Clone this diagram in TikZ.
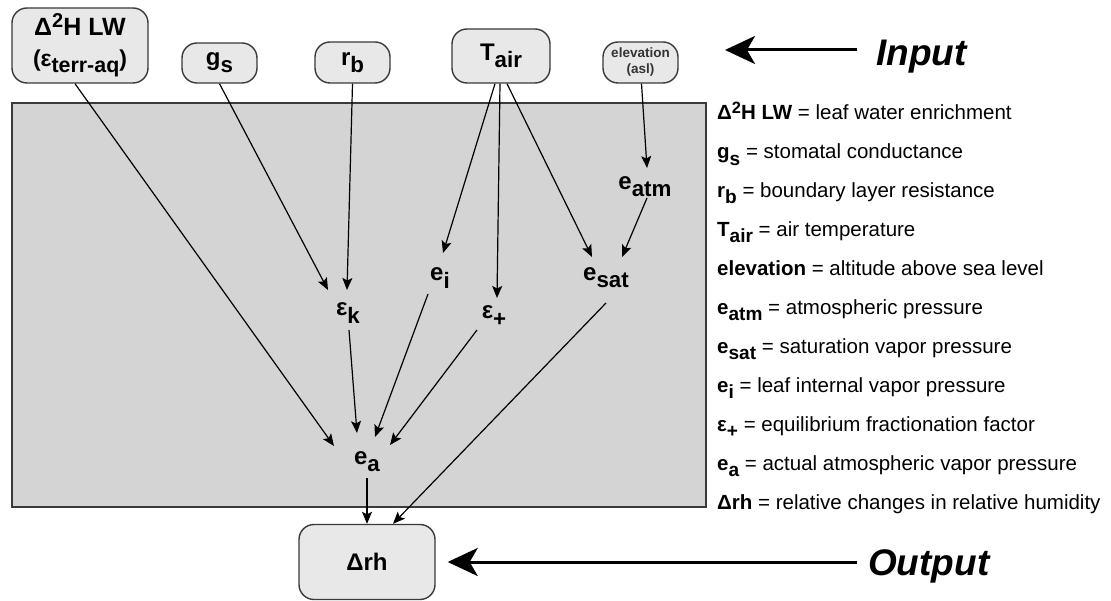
\documentclass[tikz,border=0pt]{standalone}
\usepackage{fontspec}
\setmainfont{Liberation Sans}
\usetikzlibrary{arrows.meta}
\definecolor{boxfill}{HTML}{E8E8E8}
\definecolor{panelgray}{HTML}{D4D4D4}
\definecolor{edgegray}{HTML}{3A3A3A}
\definecolor{inkgray}{HTML}{333333}
\newcommand\lo[1]{\raisebox{-0.3em}{\scalebox{0.93}{#1}}}
\newcommand\hi[1]{\raisebox{0.3em}{\scalebox{0.8}{#1}}}
\newcommand\nodefont{\fontsize{24}{30}\selectfont\bfseries}
\newcommand\legfont{\fontsize{20.5}{24}\selectfont}
\begin{document}
\begin{tikzpicture}[x=1pt,y=-1pt,
  inbox/.style={draw=edgegray, line width=1.4pt, fill=boxfill, rounded corners=15pt,
    align=center, inner sep=0pt, font=\nodefont},
  var/.style={inner sep=0pt, font=\nodefont},
  conn/.style={line width=1.2pt, -{Stealth[length=12pt,width=10pt,inset=2.5pt]}},
  bigarrow/.style={line width=3pt, -{Stealth[length=30pt,width=28pt,inset=8pt]}},
  leg/.style={anchor=base west, inner sep=0pt, font=\legfont},
  tag/.style={anchor=base west, inner sep=0pt, font=\fontsize{37}{40}\selectfont\bfseries\itshape}]

\useasboundingbox (0,0) rectangle (1111,601);
\fill[white] (0,0) rectangle (1111,601);
\path[draw=edgegray, line width=1.2pt, fill=panelgray] (12,103) rectangle (706,507);

% input boxes
\node[inbox, minimum width=136, minimum height=75, font=\fontsize{25}{31}\selectfont\bfseries] (lw) at (80,45.5)
  {Δ\hi{2}H LW\\{\fontsize{23}{31}\selectfont(ε\lo{terr-aq})}};
\node[inbox, minimum width=75, minimum height=40] (gs) at (219.5,63) {g\lo{s}};
\node[inbox, minimum width=75, minimum height=41] (rb) at (352.5,62.5) {r\lo{b}};
\node[inbox, minimum width=98, minimum height=54] (tair) at (501,56) {T\lo{air}};
\node[inbox, minimum width=75, minimum height=41, text=inkgray,
  font=\fontsize{13.5}{16}\selectfont\bfseries] (elev) at (640.5,62.5) {elevation\\(asl)};

% intermediate variables
\node[var] (eatm) at (645,187) {e\lo{atm}};
\node[var] (ei) at (440,278) {e\lo{i}};
\node[var] (esat) at (606,278) {e\lo{sat}};
\node[var] (ek) at (348,313) {ε\lo{k}};
\node[var] (ep) at (494,316) {ε\lo{+}};
\node[var] (ea) at (367,462) {e\lo{a}};

% output box
\node[inbox, minimum width=136, minimum height=75] (drh) at (367,562) {Δrh};

% connectors
\draw[conn] ([shift={(-5,0)}]lw.south) -- ([shift={(-33,-16)}]ea.center);
\draw[conn] (gs.south) -- ([shift={(-20,-23)}]ek.center);
\draw[conn] (rb.south) -- ([shift={(-1,-23)}]ek.center);
\draw[conn] ([shift={(-6,0)}]tair.south) -- ([shift={(3,-25)}]ei.center);
\draw[conn] ([shift={(-1,0)}]tair.south) -- ([shift={(3,-18)}]ep.center);
\draw[conn] ([shift={(6,0)}]tair.south) -- ([shift={(-14,-21)}]esat.center);
\draw[conn] ([shift={(1,0)}]elev.south) -- ([shift={(2,-19)}]eatm.center);
\draw[conn] ([shift={(2,11)}]eatm.center) -- ([shift={(16,-21)}]esat.center);
\draw[conn] ([shift={(1,17)}]ek.center) -- ([shift={(-10,-29)}]ea.center);
\draw[conn] ([shift={(-12,16)}]ei.center) -- ([shift={(8,-25)}]ea.center);
\draw[conn] ([shift={(-17,14)}]ep.center) -- ([shift={(23,-17)}]ea.center);
\draw[conn] ([shift={(0,16)}]ea.center) -- (drh.north);
\draw[conn] ([shift={(0,25)}]esat.center) -- ([shift={(26,0)}]drh.north);

% input / output markers
\node[tag] (inp) at (876,66) {Input};
\coordinate (inTip) at (725,50);
\draw[bigarrow] ([shift={(-19,-16)}]inp.base west) -- (inTip);
\node[tag] (outp) at (868,575) {Output};
\draw[bigarrow] ([shift={(-11,-13)}]outp.base west) -- ([shift={(12,0)}]drh.east);

% legend
\node[leg] (l1) at (717,120.0) {\textbf{Δ\hi{2}H LW} = leaf water enrichment};
\node[leg] (l2) at (717,158.9) {\textbf{g\lo{s}} = stomatal conductance};
\node[leg] (l3) at (717,197.8) {\textbf{r\lo{b}} = boundary layer resistance};
\node[leg] (l4) at (717,236.7) {\textbf{T\lo{air}} = air temperature};
\node[leg] (l5) at (717,275.6) {\textbf{elevation} = altitude above sea level};
\node[leg] (l6) at (717,314.5) {\textbf{e\lo{atm}} = atmospheric pressure};
\node[leg] (l7) at (717,353.4) {\textbf{e\lo{sat}} = saturation vapor pressure};
\node[leg] (l8) at (717,392.3) {\textbf{e\lo{i}} = leaf internal vapor pressure};
\node[leg] (l9) at (717,431.2) {\textbf{ε\lo{+}} = equilibrium fractionation factor};
\node[leg] (l10) at (717,470.1) {\textbf{e\lo{a}} = actual atmospheric vapor pressure};
\node[leg] (l11) at (717,509.0) {\textbf{Δrh} = relative changes in relative humidity};
\end{tikzpicture}
\end{document}
